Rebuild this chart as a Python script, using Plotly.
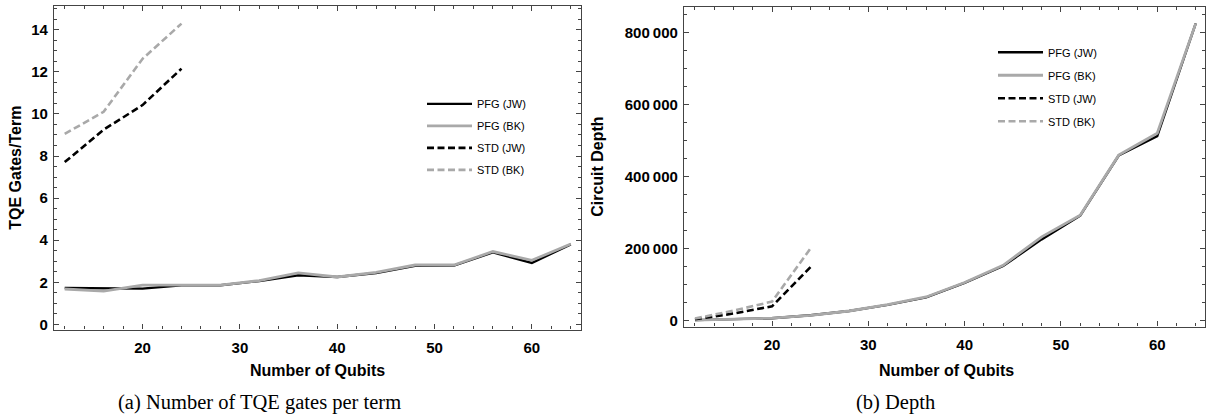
import plotly.graph_objects as go

# ---------------- data ----------------
qubits = [12, 16, 20, 24, 28, 32, 36, 40, 44, 48, 52, 56, 60, 64]
qubits_std = [12, 16, 20, 24]

tqe_pfg_jw = [1.73, 1.70, 1.70, 1.86, 1.86, 2.06, 2.33, 2.25, 2.44, 2.78, 2.80, 3.42, 2.92, 3.80]
tqe_pfg_bk = [1.68, 1.58, 1.86, 1.86, 1.86, 2.08, 2.45, 2.25, 2.47, 2.82, 2.82, 3.46, 3.04, 3.82]
tqe_std_jw = [7.71, 9.25, 10.42, 12.15]
tqe_std_bk = [9.05, 10.10, 12.62, 14.29]

depth_pfg_jw = [1500, 3500, 7000, 15000, 27000, 44000, 65000, 105000, 152000, 226000, 292000, 459000, 513000, 826000]
depth_pfg_bk = [1500, 3500, 7000, 15000, 27000, 45000, 66000, 106000, 154000, 233000, 293000, 460000, 521000, 826000]
depth_std_jw = [4000, 20000, 40000, 149000]
depth_std_bk = [6000, 28000, 53000, 201000]

series_names = ["PFG (JW)", "PFG (BK)", "STD (JW)", "STD (BK)"]

depth_tickvals = [0, 200000, 400000, 600000, 800000]
depth_ticktext = ["0", "200\u2009000", "400\u2009000", "600\u2009000", "800\u2009000"]

# ---------------- styling ----------------
BLACK = "#000000"
GRAY = "#a9a9a9"
FRAME = "#444444"
DASH = "7px,3.5px"
styles = [
    dict(color=BLACK, width=2.4, dash="solid"),
    dict(color=GRAY, width=2.8, dash="solid"),
    dict(color=BLACK, width=2.6, dash=DASH),
    dict(color=GRAY, width=2.6, dash=DASH),
]

fig = go.Figure()

left_sets = [(qubits, tqe_pfg_jw), (qubits, tqe_pfg_bk), (qubits_std, tqe_std_jw), (qubits_std, tqe_std_bk)]
right_sets = [(qubits, depth_pfg_jw), (qubits, depth_pfg_bk), (qubits_std, depth_std_jw), (qubits_std, depth_std_bk)]

for i, (x, y) in enumerate(left_sets):
    fig.add_trace(go.Scatter(x=x, y=y, mode="lines", name=series_names[i], line=styles[i],
                             xaxis="x", yaxis="y", legend="legend", legendgroup="l%d" % i))
for i, (x, y) in enumerate(right_sets):
    fig.add_trace(go.Scatter(x=x, y=y, mode="lines", name=series_names[i], line=styles[i],
                             xaxis="x2", yaxis="y2", legend="legend2", legendgroup="r%d" % i))

W, H = 1206, 419
tickfont = dict(family="Liberation Sans, Arial, sans-serif", size=15, color="black", weight="bold")

common_axis = dict(
    showline=True, linecolor=FRAME, linewidth=1.3, mirror="ticks",
    ticks="inside", ticklen=5, tickwidth=1, tickcolor=FRAME,
    showgrid=False, zeroline=False, tickfont=tickfont,
)

fig.update_layout(
    width=W, height=H, autosize=False,
    margin=dict(l=0, r=0, t=0, b=0),
    paper_bgcolor="white", plot_bgcolor="white",
    font=dict(family="Liberation Sans, Arial, sans-serif", color="black"),
    xaxis=dict(domain=[54 / W, 581 / W], range=[10.9, 65.05], anchor="y",
               tickvals=[20, 30, 40, 50, 60], ticklabelstandoff=4,
               minor=dict(dtick=2, tick0=0, ticks="inside", ticklen=3, tickcolor=FRAME), **common_axis),
    yaxis=dict(domain=[1 - 332 / H, 1 - 6 / H], range=[-0.25, 15.13], anchor="x",
               tickvals=[0, 2, 4, 6, 8, 10, 12, 14], ticklabelstandoff=2,
               minor=dict(dtick=0.5, tick0=0, ticks="inside", ticklen=3, tickcolor=FRAME), **common_axis),
    xaxis2=dict(domain=[684 / W, 1205 / W], range=[10.86, 64.96], anchor="y2",
                tickvals=[20, 30, 40, 50, 60], ticklabelstandoff=4,
                minor=dict(dtick=2, tick0=0, ticks="inside", ticklen=3, tickcolor=FRAME), **common_axis),
    yaxis2=dict(domain=[1 - 329 / H, 1 - 7 / H], range=[-16500, 871700], anchor="x2",
                tickvals=depth_tickvals, ticktext=depth_ticktext, ticklabelstandoff=2,
                minor=dict(dtick=50000, tick0=0, ticks="inside", ticklen=3, tickcolor=FRAME), **common_axis),
    legend=dict(x=422 / W, y=1 - 90 / H, xanchor="left", yanchor="top",
                bgcolor="rgba(0,0,0,0)", font=dict(size=11, family="Liberation Sans, Arial, sans-serif"),
                tracegroupgap=3, itemwidth=45),
    legend2=dict(x=993 / W, y=1 - 38 / H, xanchor="left", yanchor="top",
                 bgcolor="rgba(0,0,0,0)", font=dict(size=11, family="Liberation Sans, Arial, sans-serif"),
                 tracegroupgap=4, itemwidth=45),
)

title_font = dict(family="Liberation Sans, Arial, sans-serif", size=16, color="black", weight="bold")
caption_font = dict(family="Liberation Serif, Times New Roman, serif", size=20.5, color="black")

annotations = [
    dict(text="<b>Number of Qubits</b>", x=317 / W, y=1 - 373 / H, xref="paper", yref="paper",
         showarrow=False, xanchor="center", yanchor="middle", font=title_font),
    dict(text="<b>Number of Qubits</b>", x=946 / W, y=1 - 373 / H, xref="paper", yref="paper",
         showarrow=False, xanchor="center", yanchor="middle", font=title_font),
    dict(text="<b>TQE Gates/Term</b>", x=16 / W, y=1 - 169 / H, xref="paper", yref="paper",
         showarrow=False, xanchor="center", yanchor="middle", textangle=-90, font=title_font),
    dict(text="<b>Circuit Depth</b>", x=598 / W, y=1 - 168 / H, xref="paper", yref="paper",
         showarrow=False, xanchor="center", yanchor="middle", textangle=-90, font=title_font),
    dict(text="(a) Number of TQE gates per term", x=259.5 / W, y=1 - 405 / H, xref="paper", yref="paper",
         showarrow=False, xanchor="center", yanchor="middle", font=caption_font),
    dict(text="(b) Depth", x=895 / W, y=1 - 405 / H, xref="paper", yref="paper",
         showarrow=False, xanchor="center", yanchor="middle", font=caption_font),
]
fig.update_layout(annotations=annotations)

fig.write_html("out.html")
